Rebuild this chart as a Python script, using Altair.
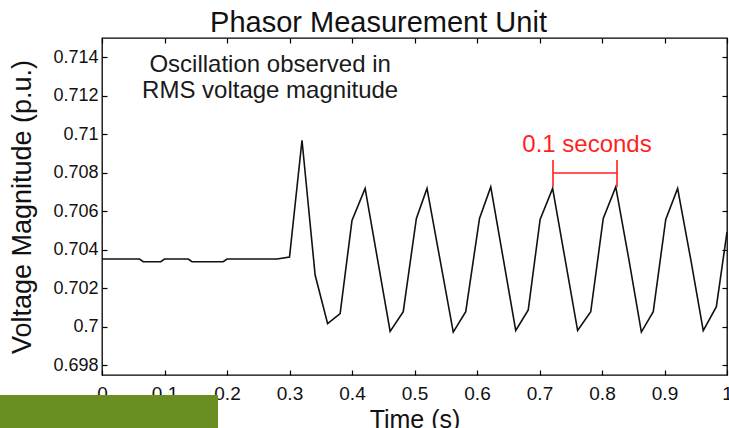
import altair as alt
import pandas as pd

FONT = "Liberation Sans"

# ---- data ----
time_s = [0.000, 0.060, 0.066, 0.094, 0.100, 0.138, 0.144, 0.194, 0.200, 0.280,
          0.300, 0.320, 0.341, 0.361, 0.381, 0.400, 0.421, 0.441, 0.461, 0.482,
          0.503, 0.520, 0.541, 0.562, 0.582, 0.604, 0.622, 0.642, 0.662, 0.682,
          0.701, 0.721, 0.741, 0.761, 0.782, 0.802, 0.822, 0.843, 0.863, 0.882,
          0.902, 0.921, 0.942, 0.962, 0.983, 1.000]
voltage_pu = [0.70352, 0.70352, 0.70338, 0.70338, 0.70352, 0.70352, 0.70338, 0.70338, 0.70352, 0.70352,
              0.70362, 0.70969, 0.70269, 0.70017, 0.70069, 0.70553, 0.70719, 0.70348, 0.69976, 0.70079,
              0.70563, 0.70719, 0.70346, 0.69973, 0.70079, 0.70563, 0.70727, 0.70354, 0.69981, 0.70088,
              0.70558, 0.70719, 0.70350, 0.69981, 0.70079, 0.70563, 0.70727, 0.70350, 0.69973, 0.70079,
              0.70558, 0.70719, 0.70350, 0.69981, 0.70105, 0.70492]
x_ticks = [0, 0.1, 0.2, 0.3, 0.4, 0.5, 0.6, 0.7, 0.8, 0.9, 1]
y_ticks = [0.698, 0.700, 0.702, 0.704, 0.706, 0.708, 0.710, 0.712, 0.714]
note_lines = ["Oscillation observed in", "RMS voltage magnitude"]
period_label = "0.1 seconds"

df = pd.DataFrame({"t": time_s, "v": voltage_pu})
one = pd.DataFrame({"k": [0]})

x_scale = alt.Scale(domain=[0, 1], nice=False, zero=False)
y_scale = alt.Scale(domain=[0.6975, 0.715], nice=False, zero=False)

common_axis = dict(domain=False, grid=False, offset=-5, tickSize=5, tickColor="#000",
                   tickWidth=1.2, labelFont=FONT, labelColor="#111", labelFlush=False,
                   labelOverlap=False, titleFont=FONT, titleColor="#111",
                   titleFontWeight="normal")

x_bottom = alt.Axis(orient="bottom", values=x_ticks, format="~g", labelFontSize=19,
                    labelPadding=9, title="Time (s)", titleFontSize=25, titlePadding=4,
                    **common_axis)
y_left = alt.Axis(orient="left", values=y_ticks, format="~g", labelFontSize=18,
                  labelPadding=4, title="Voltage Magnitude (p.u.)", titleFontSize=27,
                  titlePadding=16, **common_axis)
x_top = alt.Axis(orient="top", values=x_ticks, labels=False, title=None, **common_axis)
y_right = alt.Axis(orient="right", values=y_ticks, labels=False, title=None, **common_axis)

line = alt.Chart(df).mark_line(color="#111", strokeWidth=1.6).encode(
    x=alt.X("t:Q", scale=x_scale, axis=x_bottom),
    y=alt.Y("v:Q", scale=y_scale, axis=y_left),
)

frame_ticks = alt.Chart(df).mark_line(opacity=0).encode(
    x=alt.X("t:Q", scale=x_scale, axis=x_top),
    y=alt.Y("v:Q", scale=y_scale, axis=y_right),
)


def xd(val):
    return alt.XDatum(val, type="quantitative", scale=x_scale, axis=None)


def yd(val):
    return alt.YDatum(val, type="quantitative", scale=y_scale, axis=None)


text_style = dict(font=FONT, fontSize=24, align="center", baseline="alphabetic")

note1 = alt.Chart(one).mark_text(color="#1a1a1a", **text_style).encode(
    x=xd(0.269), y=yd(0.71323), text=alt.value(note_lines[0]))
note2 = alt.Chart(one).mark_text(color="#1a1a1a", **text_style).encode(
    x=xd(0.269), y=yd(0.71188), text=alt.value(note_lines[1]))

red = "#ff1f1f"
period_text = alt.Chart(one).mark_text(color=red, **text_style).encode(
    x=xd(0.776), y=yd(0.70908), text=alt.value(period_label))
bracket_h = alt.Chart(one).mark_rule(color=red, strokeWidth=1.6).encode(
    x=xd(0.7216), x2=alt.X2Datum(0.824), y=yd(0.70799))
bracket_l = alt.Chart(one).mark_rule(color=red, strokeWidth=1.6).encode(
    x=xd(0.7216), y=yd(0.70726), y2=alt.Y2Datum(0.70866))
bracket_r = alt.Chart(one).mark_rule(color=red, strokeWidth=1.6).encode(
    x=xd(0.824), y=yd(0.70726), y2=alt.Y2Datum(0.70866))

green_box = alt.Chart(one).mark_rect(color="#6b8e23").encode(
    x=alt.value(-102), x2=alt.value(116), y=alt.value(357), y2=alt.value(392))

chart = alt.layer(
    line, frame_ticks, note1, note2, period_text, bracket_h, bracket_l, bracket_r, green_box
).resolve_axis(x="independent", y="independent").properties(
    width=625,
    height=337,
    autosize=alt.AutoSizeParams(type="none"),
    padding={"left": 102, "top": 38, "right": 2, "bottom": 53},
    view=alt.ViewBackground(stroke="#000", strokeWidth=1.3),
    title=alt.TitleParams("Phasor Measurement Unit", font=FONT, fontSize=29,
                          fontWeight="normal", color="#111", anchor="middle",
                          frame="group", baseline="alphabetic", offset=6, dx=-36, dy=30),
).configure_view(stroke="#000", strokeWidth=1.3).configure(background="white")

chart.save("out.html", embed_options={"renderer": "svg", "actions": False})
